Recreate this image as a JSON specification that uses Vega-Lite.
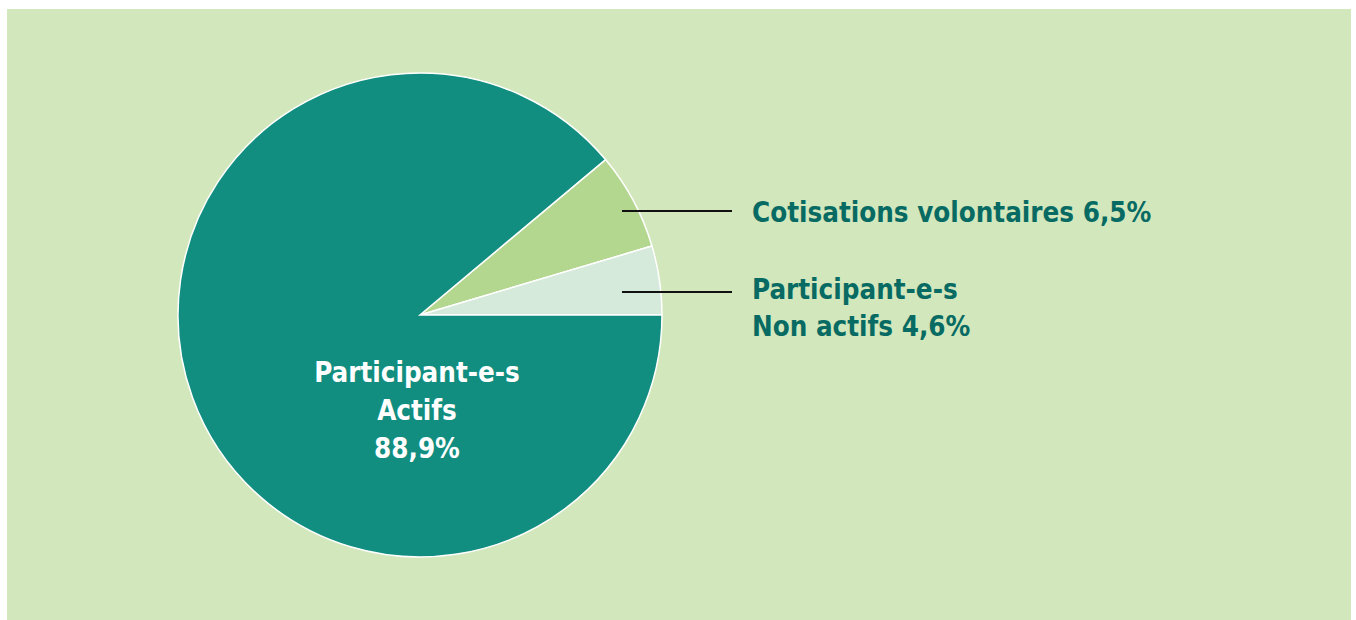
{
  "$schema": "https://vega.github.io/schema/vega-lite/v6.json",
  "width": 1344,
  "height": 611,
  "autosize": {"type": "none"},
  "padding": {"left": 7, "top": 9, "right": 5, "bottom": 0},
  "background": "#ffffff",
  "config": {"view": {"fill": "#d2e7bb", "stroke": null}},
  "layer": [
    {
      "data": {"values": [
        {"categorie": "Cotisations volontaires", "part": 6.5, "ordre": 1},
        {"categorie": "Participant-e-s Non actifs", "part": 4.6, "ordre": 2},
        {"categorie": "Participant-e-s Actifs", "part": 88.9, "ordre": 3}
      ]},
      "mark": {"type": "arc", "radius": 242, "stroke": "#ffffff", "strokeWidth": 1.5},
      "encoding": {
        "x": {"datum": 420, "type": "quantitative", "scale": {"domain": [7, 1351], "nice": false, "zero": false}, "axis": null},
        "y": {"datum": 315, "type": "quantitative", "scale": {"domain": [9, 620], "reverse": true, "nice": false, "zero": false}, "axis": null},
        "theta": {"field": "part", "type": "quantitative", "stack": true, "scale": {"range": [0.8734, 7.1566]}},
        "order": {"field": "ordre"},
        "color": {"field": "categorie", "type": "nominal", "legend": null,
          "scale": {"domain": ["Cotisations volontaires", "Participant-e-s Non actifs", "Participant-e-s Actifs"],
                    "range": ["#b4d78f", "#d5eadb", "#118e80"]}}
      }
    },
    {
      "data": {"values": [
        {"x": 622, "x2": 732, "y": 211},
        {"x": 622, "x2": 732, "y": 292}
      ]},
      "mark": {"type": "rule", "color": "#111111", "strokeWidth": 2},
      "encoding": {
        "x": {"field": "x", "type": "quantitative"},
        "x2": {"field": "x2"},
        "y": {"field": "y", "type": "quantitative"}
      }
    },
    {
      "data": {"values": [
        {"lignes": ["Cotisations volontaires 6,5%"], "x": 752, "y": 222},
        {"lignes": ["Participant-e-s", "Non actifs 4,6%"], "x": 752, "y": 299}
      ]},
      "mark": {"type": "text", "align": "left", "baseline": "alphabetic", "font": "DejaVu Sans Condensed, Roboto Condensed, Liberation Sans Narrow, Roboto, sans-serif", "fontWeight": "bold", "fontSize": 27.5, "lineHeight": 37, "color": "#076b63"},
      "encoding": {
        "x": {"field": "x", "type": "quantitative"},
        "y": {"field": "y", "type": "quantitative"},
        "text": {"field": "lignes"}
      }
    },
    {
      "data": {"values": [
        {"lignes": ["Participant-e-s", "Actifs", "88,9%"], "x": 417, "y": 382}
      ]},
      "mark": {"type": "text", "align": "center", "baseline": "alphabetic", "font": "DejaVu Sans Condensed, Roboto Condensed, Liberation Sans Narrow, Roboto, sans-serif", "fontWeight": "bold", "fontSize": 27.5, "lineHeight": 38, "color": "#ffffff"},
      "encoding": {
        "x": {"field": "x", "type": "quantitative"},
        "y": {"field": "y", "type": "quantitative"},
        "text": {"field": "lignes"}
      }
    }
  ]
}
